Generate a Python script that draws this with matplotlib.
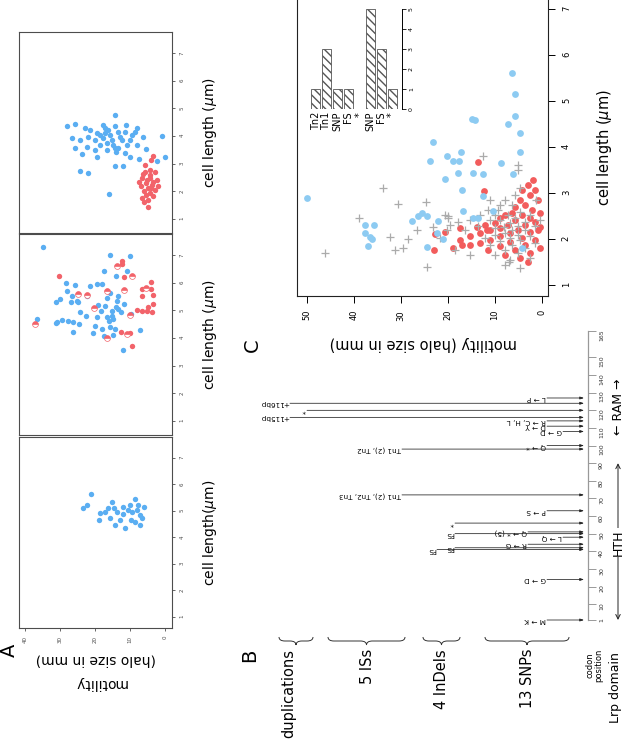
import numpy as np
import matplotlib
matplotlib.use("Agg")
import matplotlib.pyplot as plt
from matplotlib.patches import Rectangle, PathPatch
from matplotlib.path import Path
from matplotlib.transforms import blended_transform_factory

# ---- panel A: motility (mm) vs cell length (um), per day ----
d7_blue = [(14.3,4.76),(28.0,4.36),(25.7,4.44),(22.9,4.29),(17.1,4.29),(14.3,4.36),(11.1,4.40),(8.0,4.29),
           (26.6,3.93),(24.3,3.86),(22.0,3.97),(19.4,4.11),(17.7,3.93),(15.7,4.04),(12.9,3.97),(9.4,4.04),
           (6.3,3.97),(0.9,4.00),(25.7,3.57),(22.3,3.61),(18.6,3.68),(16.6,3.75),(14.3,3.57),(10.9,3.68),
           (8.0,3.68),(23.7,3.35),(19.4,3.25),(16.6,3.50),(14.0,3.43),(11.4,3.39),(10.0,3.25),(5.4,3.53),
           (7.4,3.17),(2.3,3.10),(0.0,3.25),(24.3,2.74),(22.0,2.67),(14.3,2.92),(12.0,2.92),(16.0,1.91),
           (17.1,4.11),(15.1,3.86),(13.4,4.15),(20.0,3.86),(18.6,4.04),(16.3,4.22),(14.9,3.68),(12.3,3.86),
           (21.4,4.22),(10.0,3.86),(8.6,4.15),(17.7,4.40),(13.4,3.57),(20.0,3.50),(11.4,4.15)]
d7_red = [(3.4,3.28),(4.0,3.14),(5.7,2.96),(4.9,1.44),(4.3,2.78),(5.7,2.70),(2.9,2.70),(6.6,2.49),(4.3,2.49),
          (2.3,2.42),(5.4,2.31),(3.7,2.24),(6.9,2.20),(4.9,2.13),(2.9,2.05),(6.0,2.02),(4.3,1.95),(5.4,1.87),
          (3.4,1.84),(6.6,1.77),(4.9,1.69),(6.0,1.62),(4.3,2.60),(5.1,2.42),(3.4,2.35),(6.3,2.63),(2.0,2.20),
          (7.4,2.35),(4.0,2.13)]
d5_blue = [(34.9,7.29),(15.7,7.00),(10.0,6.96),(17.4,6.42),(10.9,6.42),(14.0,6.24),(28.3,5.99),(25.7,5.92),
           (19.4,5.95),(18.0,5.95),(28.0,5.70),(21.4,5.88),(15.7,5.63),(13.4,5.52),(26.6,5.52),(31.1,5.30),
           (30.0,5.41),(25.1,5.34),(26.9,5.30),(24.9,5.30),(22.3,5.52),(16.6,5.45),(13.7,5.34),(19.1,5.19),
           (17.1,5.16),(11.7,5.23),(14.0,5.12),(18.3,4.98),(15.1,4.98),(13.4,5.05),(24.3,4.94),(22.6,4.80),
           (12.6,4.94),(9.7,4.87),(19.4,4.76),(16.6,4.76),(15.1,4.80),(14.9,4.69),(36.6,4.69),(30.9,4.58),
           (29.4,4.65),(27.7,4.62),(26.3,4.58),(24.6,4.51),(20.0,4.44),(31.1,4.55),(16.0,4.62),(18.0,4.33),
           (15.7,4.40),(14.3,4.33),(26.3,4.22),(20.6,4.18),(7.1,4.29),(14.9,4.11),(17.4,4.08),(12.0,3.57)]
d5_red = [(30.3,6.24),(12.3,6.68),(11.7,6.21),(4.0,6.03),(6.6,5.77),(3.4,5.56),(6.6,5.52),(3.4,5.23),
          (8.0,5.01),(6.6,4.98),(5.1,4.98),(3.7,4.94),(4.9,5.12),(9.4,3.71),(12.6,4.22),(10.0,4.18),
          (12.3,6.78),(4.0,5.77)]
d5_mix = [(13.7,6.60),(9.4,6.24),(24.9,5.59),(22.3,5.56),(16.6,5.70),(20.3,5.09),(10.0,4.83),(5.4,5.81),
          (37.1,4.51),(16.6,4.00),(10.9,4.15),(11.7,5.74)]
d1_blue = [(21.1,5.64),(22.3,5.23),(23.4,5.11),(15.1,5.34),(8.6,5.45),(14.6,5.11),(12.0,5.15),(10.0,5.23),
           (6.0,5.15),(18.6,4.92),(17.1,4.96),(13.7,4.96),(12.0,4.89),(9.4,4.96),(8.0,5.04),(7.1,4.85),
           (18.9,4.66),(9.7,4.66),(12.9,4.66),(15.7,4.74),(8.6,4.58),(7.1,4.47),(11.4,4.36),(14.3,4.47),
           (7.7,5.23),(10.6,5.04),(16.3,5.11),(6.6,4.74)]
d1_red = []
d1_mix = []
d7_mix = []
days = ["day 7", "day 5", "day 1"]

# ---- panel B: Lrp mutations (codon, label) ----
mut_codon = [1, 24, 44, 48, 51, 63, 100, 108, 111, 114, 127,
             41, 42, 50, 56,
             72, 98,
             116, 120, 124]
mut_label = ["M → K", "G → D", "R → G", "L → Q", "Q → * (5)", "P → S", "Q → *", "G → D", "D → Y",
             "R → C, H, L", "L → P",
             "FS", "FS", "FS", "*",
             "Tn1 (2), Tn2, Tn3", "Tn1 (2), Tn2",
             "+115bp", "*", "+116bp"]
groups = ["13 SNPs", "4 InDels", "5 ISs", "duplications"]
codon_ticks = [1, 10, 20, 30, 40, 50, 60, 70, 80, 90, 100, 110, 120, 130, 140, 150, 165]

# ---- panel C: all cultures ----
c_blue = [(6.4,5.6),(5.7,5.16),(5.7,4.68),(7.2,4.5),(14.9,4.6),(14.3,4.58),(4.7,4.3),(4.7,3.9),(23.2,4.1),
          (20.2,3.8),(18.9,3.7),(17.7,3.7),(17.2,3.9),(23.8,3.7),(8.7,3.65),(17.9,3.44),(14.7,3.44),
          (12.6,3.42),(6.2,3.42),(20.6,3.3),(17.0,3.07),(12.6,2.94),(50.0,2.9),(16.8,2.6),(27.7,2.4),
          (26.4,2.5),(25.5,2.57),(24.5,2.5),(22.1,2.4),(14.7,2.45),(13.6,2.45),(10.4,2.6),(37.7,2.3),
          (35.7,2.3),(37.7,2.14),(36.6,2.05),(36.2,2.0),(37.0,1.85),(24.5,1.83),(21.1,2.0),(22.3,2.13),(4.3,1.8)]
c_red = [(1.9,3.29),(3.0,3.18),(1.5,3.07),(4.3,3.07),(2.6,2.96),(4.7,2.85),(0.9,2.85),(3.6,2.74),(5.7,2.70),
         (2.1,2.63),(6.4,2.57),(0.4,2.57),(4.3,2.53),(7.9,2.53),(2.6,2.46),(8.9,2.46),(5.7,2.42),(1.5,2.37),
         (10.0,2.35),(7.2,2.31),(3.6,2.31),(12.1,2.31),(0.4,2.26),(8.9,2.24),(5.1,2.20),(11.1,2.20),(2.6,2.15),
         (6.8,2.13),(13.2,2.13),(0.9,2.20),(8.9,2.07),(4.3,2.02),(15.3,2.07),(11.1,1.98),(1.5,1.98),(6.8,1.94),
         (17.4,1.98),(13.2,1.92),(3.6,1.87),(8.9,1.85),(15.3,1.87),(17.0,1.87),(18.9,1.80),(23.0,1.76),
         (5.7,1.76),(0.4,1.80),(11.5,1.76),(2.6,1.70),(7.9,1.65),(13.6,3.67),(12.3,3.05),(13.8,2.26),
         (11.7,2.20),(22.8,2.10),(20.6,2.15),(17.4,2.24),(3.0,1.50),(4.7,1.59)]
c_other = [(12.6,3.8),(5.1,3.6),(5.1,3.5),(33.8,3.1),(30.6,2.76),(24.7,2.8),(38.9,2.45),(32.3,2.05),(28.5,2.0),
           (26.6,2.2),(23.2,2.26),(20.0,2.5),(20.0,2.45),(20.2,2.2),(31.3,1.76),(29.6,1.8),(46.2,1.7),(24.5,1.4),
           (7.0,1.5),(7.9,2.85),(6.4,2.74),(9.4,2.63),(4.7,2.59),(7.2,2.53),(10.0,2.53),(2.6,2.53),(5.7,2.46),
           (8.9,2.42),(3.6,2.37),(6.8,2.35),(11.1,2.42),(5.1,2.29),(8.1,2.26),(1.5,2.29),(10.0,2.24),(6.4,2.20),
           (3.6,2.20),(7.9,2.13),(5.1,2.09),(10.0,2.09),(2.6,2.07),(6.8,2.02),(12.1,2.02),(4.7,1.98),(8.9,1.96),
           (1.5,1.92),(6.4,1.87),(11.1,1.87),(3.6,1.80),(7.9,1.76),(5.1,1.70),(10.0,1.65),(2.6,1.59),(6.8,1.54),
           (13.2,2.53),(15.3,2.42),(13.6,2.29),(16.4,2.20),(17.9,2.37),(0.4,2.42),(8.9,2.74),(11.5,2.63),
           (5.7,2.96),(1.3,2.85),(4.7,3.11),(11.1,2.85),(20.6,2.53),(19.6,2.31),(21.7,2.02),(18.5,1.76),
           (15.3,1.65),(4.7,1.37),(7.9,1.44)]

# inset: cultures with phenotypic revertants (out of 12)
rev_labels = ["Tn2", "Tn1", "SNP", "FS", "*", "SNP", "FS", "*"]
rev_counts = [1, 3, 1, 1, 0, 5, 3, 1]

W, H = 623, 740
blueA, redA = "#5aaef2", "#f2636a"
blueC, redC, grayC = "#8dcbf2", "#f25c5c", "#ababab"
frame = "#4d4d4d"

fig = plt.figure(figsize=(W / 100, H / 100), dpi=100)


def px_axes(x0, y0, x1, y1):
    return fig.add_axes([x0 / W, 1 - y1 / H, (x1 - x0) / W, (y1 - y0) / H])


def brace(ax, x0, x1, y, d, q, transform=None, lw=0.7):
    xm = (x0 + x1) / 2
    h = y + d / 2
    verts = [(x0, y), (x0, h), (x0 + q, h), (xm - q, h), (xm, h), (xm, y + d),
             (xm, h), (xm + q, h), (x1 - q, h), (x1, h), (x1, y)]
    codes = [Path.MOVETO, Path.CURVE3, Path.CURVE3, Path.LINETO, Path.CURVE3, Path.CURVE3,
             Path.CURVE3, Path.CURVE3, Path.LINETO, Path.CURVE3, Path.CURVE3]
    ax.add_patch(PathPatch(Path(verts, codes), fc="none", ec="#333333", lw=lw,
                           transform=transform if transform is not None else ax.transData,
                           clip_on=False))


ov = fig.add_axes([0, 0, 1, 1])
ov.set_xlim(0, W)
ov.set_ylim(H, 0)
ov.axis("off")

# ---------------- panel A ----------------
boxes = [(19, 32, 172, 233), (19, 234, 172, 435), (19, 437, 172, 628)]
ylims = [(0.49, 7.76), (0.49, 7.76), (0.58, 7.79)]
blues = [d7_blue, d5_blue, d1_blue]
reds = [d7_red, d5_red, d1_red]
mixes = [d7_mix, d5_mix, d1_mix]
for i, (x0, y0, x1, y1) in enumerate(boxes):
    ax = px_axes(x0, y0, x1, y1)
    ax.set_xlim(41.7, -2)
    ax.set_ylim(*ylims[i])
    for s in ax.spines.values():
        s.set_color(frame)
        s.set_linewidth(0.8)
    if blues[i]:
        b = np.array(blues[i])
        ax.scatter(b[:, 0], b[:, 1], s=15, c=blueA, linewidths=0)
    if reds[i]:
        r = np.array(reds[i])
        ax.scatter(r[:, 0], r[:, 1], s=15, c=redA, linewidths=0)
    if mixes[i]:
        mx = np.array(mixes[i])
        ax.plot(mx[:, 0], mx[:, 1], "o", ms=4.2, mfc=redA, mfcalt="white", fillstyle="top",
                mec=redA, mew=0.5, ls="none")
    ax.yaxis.tick_right()
    ax.set_yticks(range(1, 8))
    ax.tick_params(axis="y", direction="out", length=2.5, width=0.6, colors=frame,
                   labelsize=4, pad=3, labelrotation=90)
    if i == 2:
        ax.set_xticks([0, 10, 20, 30, 40])
        ax.tick_params(axis="x", direction="out", length=2.5, width=0.6, colors=frame,
                       labelsize=4, pad=3, labelrotation=90)
    else:
        ax.set_xticks([])
    ov.text(34, y0 + 7, days[i], rotation=90, ha="center", va="top", fontsize=9.5)
    lab = "cell length($\\mu$m)" if i == 2 else "cell length ($\\mu$m)"
    ov.text(210, (y0 + y1) / 2, lab, rotation=90, ha="center", va="center", fontsize=10)

# legend A
ov.add_patch(Rectangle((137, 589), 35, 39, fill=False, ec=frame, lw=0.6))
ov.plot([145], [620], "o", ms=3.6, color=blueA, mew=0)
ov.plot([154], [620], "o", ms=3.6, color=redA, mew=0)
ov.plot([163], [620], "o", ms=3.6, mfc=redA, mfcalt="white", fillstyle="top", mec=redA, mew=0.5)
for xx, t in zip([145, 154, 163], ["blue", "red", "mixture"]):
    ov.text(xx, 614, t, rotation=90, ha="center", va="bottom", fontsize=4.3)

ov.text(96, 660, "(halo size in mm)", rotation=180, ha="center", va="center", fontsize=10)
ov.text(100, 683, "motility", rotation=180, ha="center", va="center", fontsize=10)
ov.text(9, 650, "A", rotation=90, ha="center", va="center", fontsize=14)

# ---------------- panel C ----------------
axC = px_axes(297, -2, 548, 296)
axC.set_xlim(52.1, -1.3)
axC.set_ylim(0.76, 7.24)
for s in axC.spines.values():
    s.set_color("#222222")
    s.set_linewidth(0.8)
cr = np.array(c_red)
co = np.array(c_other)
cb = np.array(c_blue)
axC.scatter(cr[:, 0], cr[:, 1], s=24, c=redC, linewidths=0)
axC.scatter(co[:, 0], co[:, 1], s=28, c=grayC, marker="+", linewidths=0.9)
axC.scatter(cb[:, 0], cb[:, 1], s=24, c=blueC, linewidths=0)
axC.yaxis.tick_right()
axC.set_yticks(range(1, 8))
axC.set_xticks(range(0, 51, 10))
axC.tick_params(direction="out", length=5, width=0.7, labelsize=6, pad=5, labelrotation=90)
ov.text(423, 343, "motility (halo size in mm)", rotation=180, ha="center", va="center", fontsize=10.5)
ov.text(605, 148, "cell length ($\\mu$m)", rotation=90, ha="center", va="center", fontsize=10.5)
ov.text(252, 345, "C", rotation=90, ha="center", va="center", fontsize=14)

# legend C
ov.add_patch(Rectangle((500, -4), 48, 47, fill=False, ec="#222222", lw=0.7))
ov.plot([512], [34], "o", ms=4.2, color=blueC, mew=0)
ov.plot([523], [34], "o", ms=4.2, color=redC, mew=0)
ov.plot([536], [34], "+", ms=5, color=grayC, mew=0.9)
for xx, t in zip([512, 523, 536], ["blue", "red", "other"]):
    ov.text(xx, 28, t, rotation=90, ha="center", va="bottom", fontsize=6)

# inset bar chart
axI = px_axes(309, 9, 402, 109)
axI.bar(range(len(rev_counts)), rev_counts, width=0.82, color="white", edgecolor="#555555",
        hatch="\\\\\\\\", linewidth=0.6)
axI.set_xlim(-0.6, 7.9)
axI.set_ylim(0, 5)
axI.patch.set_visible(False)
for k in ["left", "top", "bottom"]:
    axI.spines[k].set_visible(False)
axI.spines["right"].set_bounds(0, 5)
axI.spines["right"].set_linewidth(0.7)
axI.yaxis.tick_right()
axI.set_yticks(range(0, 6))
axI.tick_params(axis="y", direction="out", length=3, width=0.6, labelsize=4.5, pad=2, labelrotation=90)
axI.set_xticks(range(len(rev_labels)))
axI.set_xticklabels(rev_labels, rotation=90, fontsize=7)
axI.tick_params(axis="x", length=0, pad=2)
bt = blended_transform_factory(axI.transData, ov.transData)
brace(ov, 1.6, 4.4, 137, 8, 0.5, transform=bt)
brace(ov, 4.6, 7.4, 137, 8, 0.5, transform=bt)
ov.text(3.0, 149, "HTH", rotation=90, ha="center", va="top", fontsize=7, transform=bt)
ov.text(6.0, 149, "RAM", rotation=90, ha="center", va="top", fontsize=7, transform=bt)
ov.text(433, 111, "cultures with phenotypic\nrevertants (out of 12)", rotation=90, ha="center",
        va="bottom", multialignment="left", fontsize=6, linespacing=1.1)

# ---------------- panel B ----------------
axB = px_axes(250, 300, 588, 740)
axB.set_xlim(250, 588)
axB.set_ylim(1 - (740 - 620) / 1.762, 1 + (620 - 300) / 1.762)
axB.patch.set_visible(False)
for k in ["left", "top", "bottom"]:
    axB.spines[k].set_visible(False)
axB.spines["right"].set_bounds(1, 165)
axB.spines["right"].set_color("#999999")
axB.spines["right"].set_linewidth(0.9)
axB.yaxis.tick_right()
axB.set_yticks(codon_ticks)
axB.set_xticks([])
axB.tick_params(axis="y", direction="out", length=6, width=0.7, colors="#999999",
                labelcolor="#333333", labelsize=4.5, pad=2, labelrotation=90)

# where each label/line starts (layout only)
mut_x0 = [547, 547, 528, 563, 528, 547, 547, 563, 547, 547, 547,
          437, 455, 455, 455,
          402, 402,
          290, 307, 290]
for c, lab, x0 in zip(mut_codon, mut_label, mut_x0):
    axB.annotate("", xy=(584, c), xytext=(x0, c),
                 arrowprops=dict(arrowstyle="-|>,head_length=0.45,head_width=0.15", lw=0.55,
                                 color="#222222", shrinkA=0, shrinkB=0, mutation_scale=5))
    axB.text(x0 - 1, c, lab, rotation=180, ha="right", va="center", fontsize=5.2, clip_on=False)

# domain annotations
axB.annotate("", xy=(618, 1), xytext=(618, 90), annotation_clip=False,
             arrowprops=dict(arrowstyle="<->,head_length=0.4,head_width=0.2", lw=0.7,
                             color="#222222", shrinkA=0, shrinkB=0, mutation_scale=8))
axB.text(618, 45, "HTH", rotation=90, ha="center", va="center", fontsize=9, clip_on=False,
         bbox=dict(fc="white", ec="none", pad=1))
axB.text(618, 122, "← RAM →", rotation=90, ha="center", va="center", fontsize=9, clip_on=False)

ov.text(594, 665, "codon\nposition", rotation=90, ha="center", va="center", fontsize=6,
        linespacing=0.95)
ov.text(616, 652, "Lrp domain", rotation=90, ha="center", va="top", fontsize=9)

# group braces and labels
brace_spans = [(485, 569), (423, 460), (328, 405), (279, 313)]
label_x = [527, 442, 367, 289]
for (b0, b1), lx, g in zip(brace_spans, label_x, groups):
    brace(ov, b0, b1, 637, 8, 6)
    ov.text(lx, 649, g, rotation=90, ha="center", va="top", fontsize=10.5)
ov.text(250, 655, "B", rotation=90, ha="center", va="center", fontsize=14)

fig.savefig("out.png", dpi=100)
